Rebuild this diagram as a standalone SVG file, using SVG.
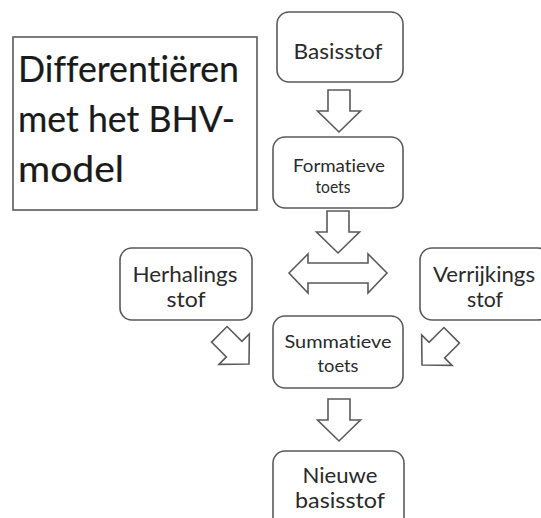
<svg xmlns="http://www.w3.org/2000/svg" width="541" height="518" viewBox="0 0 541 518">
<defs>
<style>
.box{fill:#fff;stroke:#5a5a5a;stroke-width:1.6}
.arr{fill:#fff;stroke:#5a5a5a;stroke-width:1.6;stroke-linejoin:miter}
text{font-variant-ligatures:none}
.t{font-family:Lato,"Open Sans","Liberation Sans",sans-serif;fill:#2a2a2a;text-anchor:middle}
.title{font-family:Lato,"Open Sans","Liberation Sans",sans-serif;fill:#1a1a1a;stroke:#1a1a1a;stroke-width:0.2;font-size:37px}
</style>
<path id="down" d="M-11,-42 H11 V-21 H21.5 L0,0 L-21.5,-21 H-11 Z"/>
</defs>
<rect width="541" height="518" fill="#fff"/>
<g id="title">
<rect x="13" y="37" width="244" height="173" fill="#fff" stroke="#5a5a5a" stroke-width="1.6"/>
<text class="title" x="18" y="82" textLength="221" lengthAdjust="spacingAndGlyphs">Differentiëren</text>
<text class="title" x="18" y="132" textLength="217" lengthAdjust="spacingAndGlyphs">met het BHV-</text>
<text class="title" x="18" y="182" textLength="106" lengthAdjust="spacingAndGlyphs">model</text>
</g>
<g id="basisstof">
<rect class="box" x="277" y="12" width="126" height="70" rx="12"/>
<text class="t" x="338" y="59" font-size="21" textLength="89" lengthAdjust="spacingAndGlyphs">Basisstof</text>
</g>
<g id="formatieve">
<rect class="box" x="273" y="137" width="130" height="71" rx="12"/>
<text class="t" x="339" y="172" font-size="17" textLength="92" lengthAdjust="spacingAndGlyphs">Formatieve</text>
<text class="t" x="333" y="193" font-size="17" textLength="35" lengthAdjust="spacingAndGlyphs">toets</text>
</g>
<g id="herhalingsstof">
<rect class="box" x="120" y="248" width="132" height="72" rx="12"/>
<text class="t" x="185" y="282" font-size="21" textLength="105" lengthAdjust="spacingAndGlyphs">Herhalings</text>
<text class="t" x="186" y="307" font-size="21" textLength="39" lengthAdjust="spacingAndGlyphs">stof</text>
</g>
<g id="verrijkingsstof">
<rect class="box" x="420" y="248" width="130" height="72" rx="12"/>
<text class="t" x="484" y="282" font-size="21" textLength="102" lengthAdjust="spacingAndGlyphs">Verrijkings</text>
<text class="t" x="485" y="307" font-size="21" textLength="36" lengthAdjust="spacingAndGlyphs">stof</text>
</g>
<g id="summatieve">
<rect class="box" x="273" y="316" width="130" height="72" rx="12"/>
<text class="t" x="338" y="348" font-size="18" textLength="107" lengthAdjust="spacingAndGlyphs">Summatieve</text>
<text class="t" x="338" y="372" font-size="18" textLength="41" lengthAdjust="spacingAndGlyphs">toets</text>
</g>
<g id="nieuwe">
<rect class="box" x="273" y="451" width="131" height="80" rx="12"/>
<text class="t" x="340" y="483" font-size="21" textLength="75" lengthAdjust="spacingAndGlyphs">Nieuwe</text>
<text class="t" x="340" y="508" font-size="21" textLength="90" lengthAdjust="spacingAndGlyphs">basisstof</text>
</g>
<g id="connectors">
<use href="#down" class="arr" transform="translate(339,132)"/>
<use href="#down" class="arr" transform="translate(338,253)"/>
<use href="#down" class="arr" transform="translate(339,441)"/>
<path class="arr" d="M289,273 L308,254 V263 H368 V254 L387,273 L368,293 V283 H308 V293 Z"/>
<use href="#down" class="arr" transform="translate(249,364) rotate(-45)"/>
<use href="#down" class="arr" transform="translate(422,365) rotate(45)"/>
</g>
</svg>
